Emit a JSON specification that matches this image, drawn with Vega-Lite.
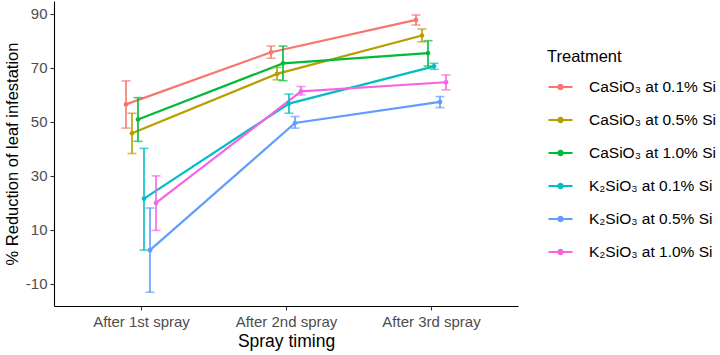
{
  "$schema": "https://vega.github.io/schema/vega-lite/v6.json",
  "width": 464,
  "height": 305,
  "autosize": {"type": "none"},
  "padding": {"left": 54, "top": 1, "right": 202, "bottom": 49},
  "background": "white",
  "config": {
    "font": "Liberation Sans",
    "view": {"stroke": null},
    "axis": {
      "domainColor": "black",
      "domainWidth": 1.1,
      "tickColor": "#333333",
      "tickSize": 4,
      "tickWidth": 1.1,
      "labelColor": "#4D4D4D",
      "labelFontSize": 15,
      "titleFontSize": 17.5,
      "titleFontWeight": "normal",
      "titleColor": "black",
      "grid": false
    }
  },
  "data": {
    "values": [
      {"timing": "After 1st spray", "treatment": "CaSiO₃ at 0.1% Si", "mean": 56.5, "lo": 47.7, "hi": 65.2},
      {"timing": "After 1st spray", "treatment": "CaSiO₃ at 0.5% Si", "mean": 45.8, "lo": 38.3, "hi": 53.2},
      {"timing": "After 1st spray", "treatment": "CaSiO₃ at 1.0% Si", "mean": 50.9, "lo": 42.8, "hi": 59.0},
      {"timing": "After 1st spray", "treatment": "K₂SiO₃ at 0.1% Si", "mean": 21.6, "lo": 2.5, "hi": 40.2},
      {"timing": "After 1st spray", "treatment": "K₂SiO₃ at 0.5% Si", "mean": 2.5, "lo": -13.1, "hi": 18.1},
      {"timing": "After 1st spray", "treatment": "K₂SiO₃ at 1.0% Si", "mean": 20.0, "lo": 9.8, "hi": 30.0},
      {"timing": "After 2nd spray", "treatment": "CaSiO₃ at 0.1% Si", "mean": 75.8, "lo": 73.6, "hi": 78.1},
      {"timing": "After 2nd spray", "treatment": "CaSiO₃ at 0.5% Si", "mean": 67.8, "lo": 65.6, "hi": 70.2},
      {"timing": "After 2nd spray", "treatment": "CaSiO₃ at 1.0% Si", "mean": 71.7, "lo": 65.3, "hi": 78.1},
      {"timing": "After 2nd spray", "treatment": "K₂SiO₃ at 0.1% Si", "mean": 56.8, "lo": 53.2, "hi": 60.3},
      {"timing": "After 2nd spray", "treatment": "K₂SiO₃ at 0.5% Si", "mean": 49.6, "lo": 47.7, "hi": 52.0},
      {"timing": "After 2nd spray", "treatment": "K₂SiO₃ at 1.0% Si", "mean": 61.3, "lo": 60.0, "hi": 63.1},
      {"timing": "After 3rd spray", "treatment": "CaSiO₃ at 0.1% Si", "mean": 87.8, "lo": 85.9, "hi": 89.6},
      {"timing": "After 3rd spray", "treatment": "CaSiO₃ at 0.5% Si", "mean": 82.0, "lo": 79.7, "hi": 84.4},
      {"timing": "After 3rd spray", "treatment": "CaSiO₃ at 1.0% Si", "mean": 75.5, "lo": 70.7, "hi": 80.1},
      {"timing": "After 3rd spray", "treatment": "K₂SiO₃ at 0.1% Si", "mean": 70.6, "lo": 69.5, "hi": 71.7},
      {"timing": "After 3rd spray", "treatment": "K₂SiO₃ at 0.5% Si", "mean": 57.4, "lo": 55.3, "hi": 59.4},
      {"timing": "After 3rd spray", "treatment": "K₂SiO₃ at 1.0% Si", "mean": 64.7, "lo": 61.9, "hi": 67.4}
    ]
  },
  "encoding": {
    "x": {
      "field": "timing",
      "type": "nominal",
      "title": "Spray timing",
      "scale": {"type": "point", "padding": 0.6},
      "axis": {"labelAngle": 0, "labelPadding": 4, "titlePadding": 3}
    },
    "xOffset": {
      "field": "treatment",
      "type": "nominal",
      "scale": {
        "type": "point",
        "domain": ["CaSiO₃ at 0.1% Si", "CaSiO₃ at 0.5% Si", "CaSiO₃ at 1.0% Si", "K₂SiO₃ at 0.1% Si", "K₂SiO₃ at 0.5% Si", "K₂SiO₃ at 1.0% Si"],
        "range": [-18, 18]
      }
    },
    "color": {
      "field": "treatment",
      "type": "nominal",
      "title": "Treatment",
      "scale": {
        "domain": ["CaSiO₃ at 0.1% Si", "CaSiO₃ at 0.5% Si", "CaSiO₃ at 1.0% Si", "K₂SiO₃ at 0.1% Si", "K₂SiO₃ at 0.5% Si", "K₂SiO₃ at 1.0% Si"],
        "range": ["#F8766D", "#B79F00", "#00BA38", "#00BFC4", "#619CFF", "#F564E3"]
      },
      "legend": {
        "orient": "none",
        "legendX": 493,
        "legendY": 48,
        "titleFontSize": 16.5,
        "titleFontWeight": "normal",
        "titleColor": "black",
        "titlePadding": 8,
        "labelFontSize": 15.5,
        "labelColor": "black",
        "labelOffset": 15,
        "symbolType": "M-1,0L1,0M-0.18,0a0.18,0.18 0 1,0 0.36,0a0.18,0.18 0 1,0 -0.36,0",
        "symbolSize": 576,
        "symbolStrokeWidth": 2.2,
        "rowPadding": 11,
        "encode": {
          "symbols": {
            "update": {
              "fill": {"scale": "color", "field": "value"},
              "stroke": {"scale": "color", "field": "value"},
              "opacity": {"value": 1}
            }
          }
        }
      }
    }
  },
  "layer": [
    {
      "mark": {"type": "line", "strokeWidth": 2.2},
      "encoding": {
        "y": {
          "field": "mean",
          "type": "quantitative",
          "title": "% Reduction of leaf infestation",
          "scale": {"domain": [-18.2, 94.8], "nice": false, "zero": false},
          "axis": {
            "values": [-10, 10, 30, 50, 70, 90],
            "labelExpr": "replace(datum.label, '−', '-')",
            "labelPadding": 3,
            "titleFontSize": 16.5,
            "titlePadding": 5
          }
        }
      }
    },
    {
      "mark": {"type": "rule", "strokeWidth": 1.6},
      "encoding": {
        "y": {"field": "lo", "type": "quantitative"},
        "y2": {"field": "hi"}
      }
    },
    {
      "mark": {"type": "tick", "orient": "horizontal", "size": 9, "thickness": 1.6},
      "encoding": {"y": {"field": "lo", "type": "quantitative"}}
    },
    {
      "mark": {"type": "tick", "orient": "horizontal", "size": 9, "thickness": 1.6},
      "encoding": {"y": {"field": "hi", "type": "quantitative"}}
    },
    {
      "mark": {"type": "point", "filled": true, "opacity": 1, "size": 22},
      "encoding": {"y": {"field": "mean", "type": "quantitative"}}
    }
  ]
}
